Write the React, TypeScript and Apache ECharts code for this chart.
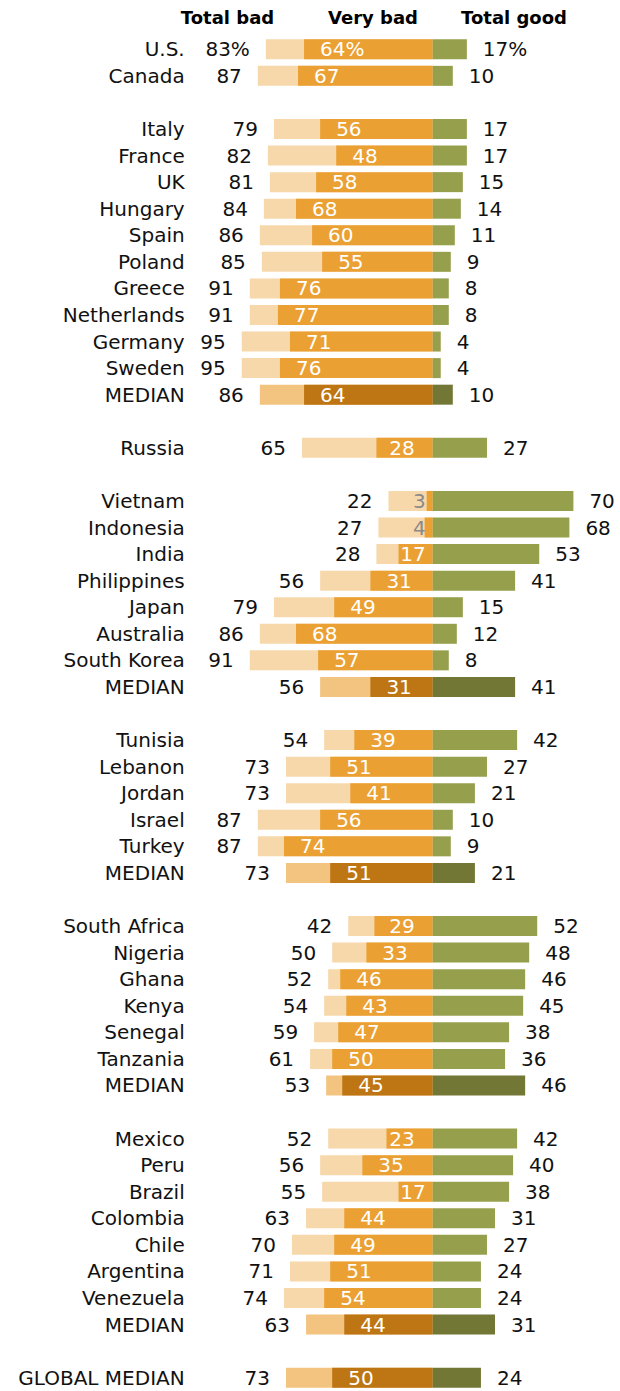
import React, { useEffect, useRef } from "react";
import * as echarts from "echarts";

const countries: string[] = [
  "U.S.", "Canada", "",
  "Italy", "France", "UK", "Hungary", "Spain", "Poland", "Greece", "Netherlands", "Germany", "Sweden", "MEDIAN", "",
  "Russia", "",
  "Vietnam", "Indonesia", "India", "Philippines", "Japan", "Australia", "South Korea", "MEDIAN", "",
  "Tunisia", "Lebanon", "Jordan", "Israel", "Turkey", "MEDIAN", "",
  "South Africa", "Nigeria", "Ghana", "Kenya", "Senegal", "Tanzania", "MEDIAN", "",
  "Mexico", "Peru", "Brazil", "Colombia", "Chile", "Argentina", "Venezuela", "MEDIAN", "",
  "GLOBAL MEDIAN",
];

const totalBad: (number | null)[] = [
  83, 87, null,
  79, 82, 81, 84, 86, 85, 91, 91, 95, 95, 86, null,
  65, null,
  22, 27, 28, 56, 79, 86, 91, 56, null,
  54, 73, 73, 87, 87, 73, null,
  42, 50, 52, 54, 59, 61, 53, null,
  52, 56, 55, 63, 70, 71, 74, 63, null,
  73,
];

const veryBad: (number | null)[] = [
  64, 67, null,
  56, 48, 58, 68, 60, 55, 76, 77, 71, 76, 64, null,
  28, null,
  3, 4, 17, 31, 49, 68, 57, 31, null,
  39, 51, 41, 56, 74, 51, null,
  29, 33, 46, 43, 47, 50, 45, null,
  23, 35, 17, 44, 49, 51, 54, 44, null,
  50,
];

const totalGood: (number | null)[] = [
  17, 10, null,
  17, 17, 15, 14, 11, 9, 8, 8, 4, 4, 10, null,
  27, null,
  70, 68, 53, 41, 15, 12, 8, 41, null,
  42, 27, 21, 10, 9, 21, null,
  52, 48, 46, 45, 38, 36, 46, null,
  42, 40, 38, 31, 27, 24, 24, 31, null,
  24,
];

const headers = ["Total bad", "Very bad", "Total good"];

const FONT = "DejaVu Sans";
const PX_PER_UNIT = 2.01;
const DIGIT_W = 12.72;

const isMedian = (i: number) => countries[i].indexOf("MEDIAN") >= 0;

export default function App() {
  const ref = useRef<HTMLDivElement>(null);

  useEffect(() => {
    if (!ref.current) return;
    const chart = echarts.init(ref.current, undefined, { renderer: "svg" });

    const fmt = (v: number, i: number) => (i === 0 ? `${Math.abs(v)}%` : `${Math.abs(v)}`);

    const lightData = totalBad.map((v, i) =>
      v == null
        ? "-"
        : { value: -v, itemStyle: { color: isMedian(i) ? "#F2C480" : "#F7D8AA" } }
    );

    const orangeData = veryBad.map((v, i) => {
      if (v == null) return "-";
      const txt = fmt(v, i);
      const w = txt.length * DIGIT_W + (txt.indexOf("%") >= 0 ? 6 : 0);
      const start = -v * PX_PER_UNIT;
      let left: number;
      if (v < 20) {
        left = -7 - w;
      } else {
        left = start + 16;
        if (left + w > -18) left = -18 - w;
      }
      const dx = left - (start + 16);
      return {
        value: -v,
        itemStyle: { color: isMedian(i) ? "#BE7513" : "#EBA033" },
        label: {
          offset: [dx, 0],
          color: v < 10 ? "#8a8a8a" : "#ffffff",
        },
      };
    });

    const greenData = totalGood.map((v, i) =>
      v == null
        ? "-"
        : { value: v, itemStyle: { color: isMedian(i) ? "#727735" : "#969F4B" } }
    );

    const labelBase = {
      show: true,
      fontFamily: FONT,
      fontSize: 20,
      color: "#111",
    };

    chart.setOption({
      animation: false,
      grid: { left: 231.7, right: 6.4, top: 36, height: 1355.5 },
      xAxis: {
        type: "value",
        min: -100,
        max: 90,
        show: false,
      },
      yAxis: {
        type: "category",
        inverse: true,
        data: countries.map((_, i) => String(i)),
        axisLine: { show: false },
        axisTick: { show: false },
        splitLine: { show: false },
        axisLabel: {
          formatter: (val: string) => countries[Number(val)],
          fontFamily: FONT,
          fontSize: 20,
          color: "#111",
          margin: 47,
        },
      },
      graphic: headers.map((h, k) => ({
        type: "text",
        x: [227.5, 373, 514][k],
        y: 17.5,
        style: {
          text: h,
          fontFamily: FONT,
          fontWeight: "bold",
          fontSize: 18,
          fill: "#000",
          align: "center",
          verticalAlign: "middle",
        },
      })),
      series: [
        {
          type: "bar",
          data: lightData,
          barWidth: 20,
          barGap: "-100%",
          label: {
            ...labelBase,
            position: "left",
            distance: 16,
            formatter: (p: any) => fmt(p.value, p.dataIndex),
          },
        },
        {
          type: "bar",
          data: orangeData,
          barWidth: 20,
          barGap: "-100%",
          label: {
            ...labelBase,
            position: "insideLeft",
            distance: 16,
            color: "#fff",
            formatter: (p: any) => fmt(p.value, p.dataIndex),
          },
        },
        {
          type: "bar",
          data: greenData,
          barWidth: 20,
          barGap: "-100%",
          label: {
            ...labelBase,
            position: "right",
            distance: 16,
            formatter: (p: any) => fmt(p.value, p.dataIndex),
          },
        },
      ],
    });

    return () => chart.dispose();
  }, []);

  return (
    <div
      ref={ref}
      style={{ position: "absolute", left: 0, top: 0, width: 620, height: 1391 }}
    />
  );
}
